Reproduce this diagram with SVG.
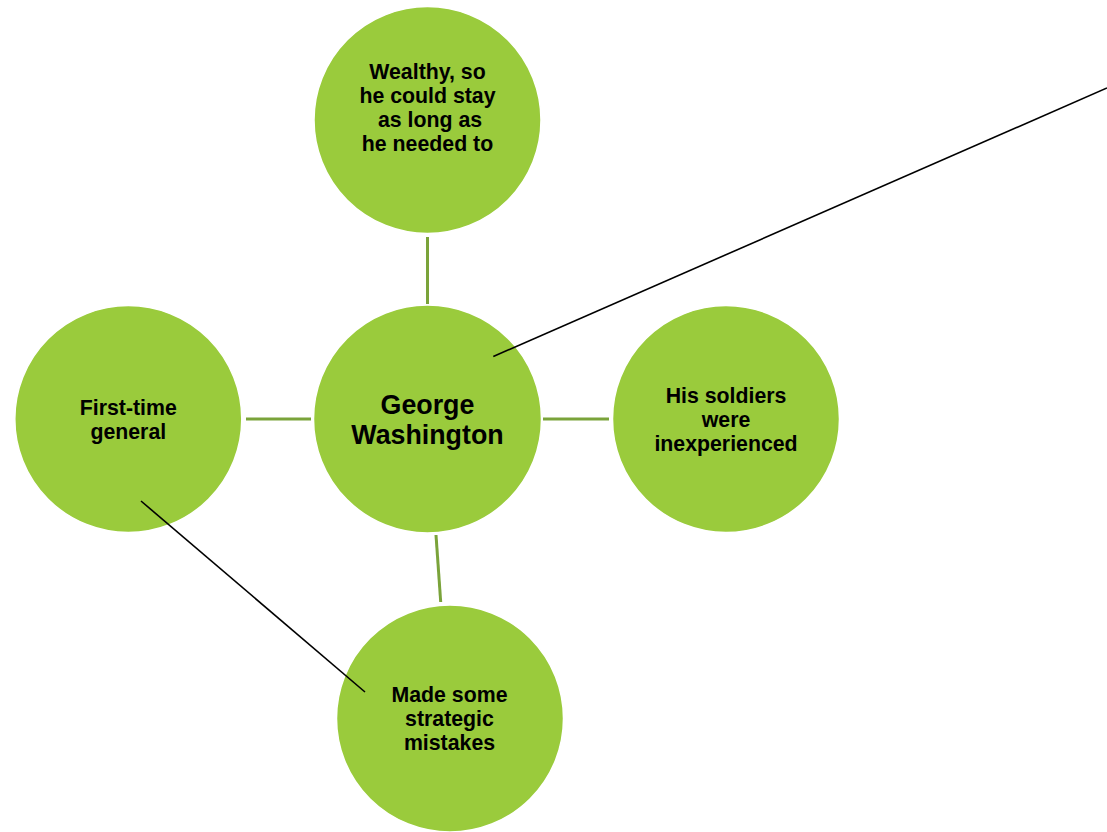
<svg xmlns="http://www.w3.org/2000/svg" width="1107" height="832" viewBox="0 0 1107 832">
<style>
.node{fill:#9acb3c;stroke:#ffffff;stroke-width:1.5}
.link{stroke:#7aa33a;stroke-width:3;fill:none}
.pointer{stroke:#000000;stroke-width:1.6;fill:none}
text{font-family:"Liberation Sans",Arial,sans-serif;font-weight:bold;fill:#000000;text-anchor:middle;font-size:21.3px}
.big{font-size:26.8px}
</style>
<rect width="1107" height="832" fill="#ffffff"/>
<g id="connectors">
<line class="link" x1="427.5" y1="237" x2="427.5" y2="304"/>
<line class="link" x1="246" y1="419" x2="311" y2="419"/>
<line class="link" x1="543" y1="419" x2="609" y2="419"/>
<line class="link" x1="436" y1="535" x2="440.7" y2="602"/>
</g>
<g id="node-top">
<circle class="node" cx="427.5" cy="120" r="113.5"/>
<text x="427.5" y="79">Wealthy, so</text>
<text x="427.5" y="103">he could stay</text>
<text x="430" y="127">as long as</text>
<text x="427.5" y="151">he needed to</text>
</g>
<g id="node-center">
<circle class="node" cx="427.5" cy="419" r="114"/>
<text class="big" x="427.5" y="414">George</text>
<text class="big" x="427.5" y="444">Washington</text>
</g>
<g id="node-left">
<circle class="node" cx="128.3" cy="419" r="113.5"/>
<text x="128.3" y="415">First-time</text>
<text x="128.3" y="439">general</text>
</g>
<g id="node-right">
<circle class="node" cx="726" cy="419" r="113.5"/>
<text x="726" y="403">His soldiers</text>
<text x="726" y="427">were</text>
<text x="726" y="451">inexperienced</text>
</g>
<g id="node-bottom">
<circle class="node" cx="450" cy="718.5" r="113.5"/>
<text x="449.5" y="702">Made some</text>
<text x="449.5" y="726">strategic</text>
<text x="449.5" y="750">mistakes</text>
</g>
<g id="pointers">
<line class="pointer" x1="493.3" y1="356.5" x2="1107" y2="88"/>
<line class="pointer" x1="141" y1="501" x2="365" y2="692"/>
</g>
</svg>
